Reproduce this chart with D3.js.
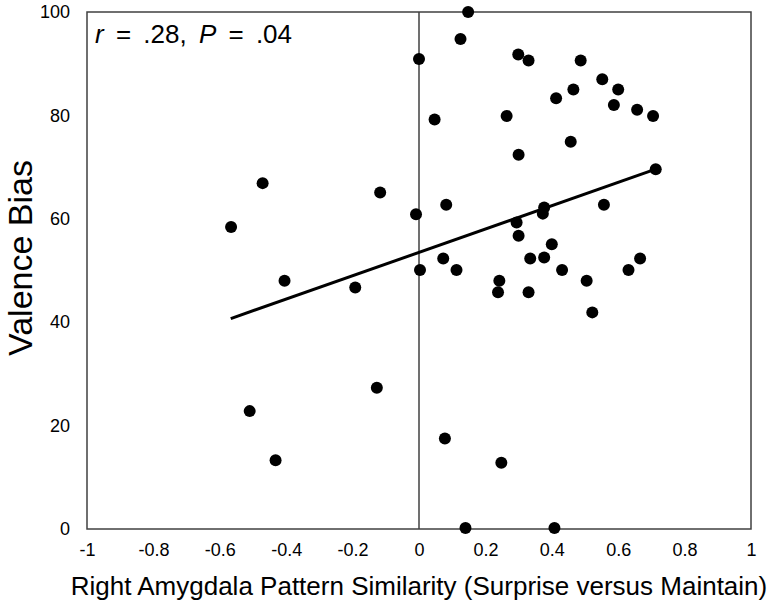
<!DOCTYPE html>
<html>
<head>
<meta charset="utf-8">
<script src="https://cdn.jsdelivr.net/npm/d3@7"></script>
<style>
  body { margin: 0; background: #fff; }
  svg text { font-family: "Liberation Sans", Arial, sans-serif; fill: #000; }
</style>
</head>
<body>
<div id="viz"></div>
<script>
// pattern similarity (x) and valence bias (y), one entry per subject
var similarity = [
  0.00, -0.471, -0.117, -0.009, -0.566, 0.003, -0.405, 0.148, 0.125, 0.299,
  0.330, 0.487, 0.552, 0.600, 0.465, 0.413, 0.587, 0.657, 0.705, 0.264,
  0.047, 0.457, 0.300, 0.713, 0.082, 0.557, 0.377, 0.373, 0.294, 0.300,
  0.400, 0.073, 0.335, 0.377, 0.666, 0.113, 0.431, 0.631, 0.242, 0.505,
  0.238, 0.330, 0.522, 0.078, 0.248, 0.140, 0.408, -0.192, -0.127, -0.510,
  -0.432
];
var valenceBias = [
  90.9, 66.9, 65.1, 60.9, 58.4, 50.1, 48.0, 100, 94.8, 91.8,
  90.6, 90.6, 87.0, 85.0, 85.0, 83.3, 82.0, 81.1, 79.9, 79.9,
  79.2, 74.9, 72.4, 69.6, 62.7, 62.7, 62.2, 61.0, 59.3, 56.7,
  55.1, 52.3, 52.3, 52.5, 52.3, 50.1, 50.1, 50.1, 48.0, 48.0,
  45.8, 45.8, 41.9, 17.5, 12.8, 0.2, 0.2, 46.7, 27.3, 22.8,
  13.3
];

// fitted line end points
var trendX = [-0.567, 0.713];
var trendY = [40.7, 69.6];

var xTicks = [-1, -0.8, -0.6, -0.4, -0.2, 0, 0.2, 0.4, 0.6, 0.8, 1];
var yTicks = [0, 20, 40, 60, 80, 100];

var W = 776, H = 614;
// plot box edges (don't call these top/left: window.top is read-only)
var plotL = 87, plotR = 751, plotT = 12, plotB = 529;

var svg = d3.select("#viz")
    .append("svg")
    .attr("width", W)
    .attr("height", H);

var x = d3.scaleLinear().domain([-1, 1]).range([plotL, plotR]);
var y = d3.scaleLinear().domain([0, 100]).range([plotB, plotT]);

// frame
svg.append("rect")
    .attr("x", plotL)
    .attr("y", plotT)
    .attr("width", plotR - plotL)
    .attr("height", plotB - plotT)
    .style("fill", "none")
    .style("stroke", "#404040")
    .style("stroke-width", 1.5);

// x axis labels (no tick marks), plain hyphen for minus like the original
var xAxis = d3.axisBottom(x)
    .tickValues(xTicks)
    .tickSize(0)
    .tickPadding(14)
    .tickFormat(d => String(+d.toFixed(1)));

svg.append("g")
    .attr("transform", "translate(0," + plotB + ")")
    .call(xAxis)
    .call(g => g.select(".domain").remove())
    .selectAll("text")
      .style("font-size", "18px")
      .style("font-family", '"Liberation Sans", Arial, sans-serif');

var yAxis = d3.axisLeft(y)
    .tickValues(yTicks)
    .tickSize(0)
    .tickPadding(17)
    .tickFormat(d => String(d));

svg.append("g")
    .attr("transform", "translate(" + plotL + ",0)")
    .call(yAxis)
    .call(g => g.select(".domain").remove())
    .selectAll("text")
      .style("font-size", "18px")
      .style("font-family", '"Liberation Sans", Arial, sans-serif');

// vertical line at zero
svg.append("line")
    .attr("x1", x(0))
    .attr("x2", x(0))
    .attr("y1", plotT)
    .attr("y2", plotB)
    .style("stroke", "#404040")
    .style("stroke-width", 1.5);

// trend line
var line = d3.line()
    .x(d => x(d[0]))
    .y(d => y(d[1]));

svg.append("path")
    .datum(d3.zip(trendX, trendY))
    .attr("d", line)
    .style("fill", "none")
    .style("stroke", "#000")
    .style("stroke-width", 3);

// points
svg.append("g")
  .selectAll("circle")
  .data(d3.zip(similarity, valenceBias))
  .join("circle")
    .attr("cx", d => x(d[0]))
    .attr("cy", d => y(d[1]))
    .attr("r", 6)
    .style("fill", "#000");

// stats annotation
var note = svg.append("text")
    .attr("x", 95)
    .attr("y", 43)
    .attr("xml:space", "preserve")
    .style("font-size", "26px")
    .style("word-spacing", "5px");
note.append("tspan").style("font-style", "italic").text("r");
note.append("tspan").text(" = .28, ");
note.append("tspan").style("font-style", "italic").text("P");
note.append("tspan").text(" = .04");

// axis titles
svg.append("text")
    .attr("x", (plotL + plotR) / 2)
    .attr("y", 595)
    .attr("text-anchor", "middle")
    .style("font-size", "26px")
    .text("Right Amygdala Pattern Similarity (Surprise versus Maintain)");

svg.append("text")
    .attr("transform", "translate(32,258) rotate(-90)")
    .attr("text-anchor", "middle")
    .style("font-size", "34px")
    .text("Valence Bias");
</script>
</body>
</html>
